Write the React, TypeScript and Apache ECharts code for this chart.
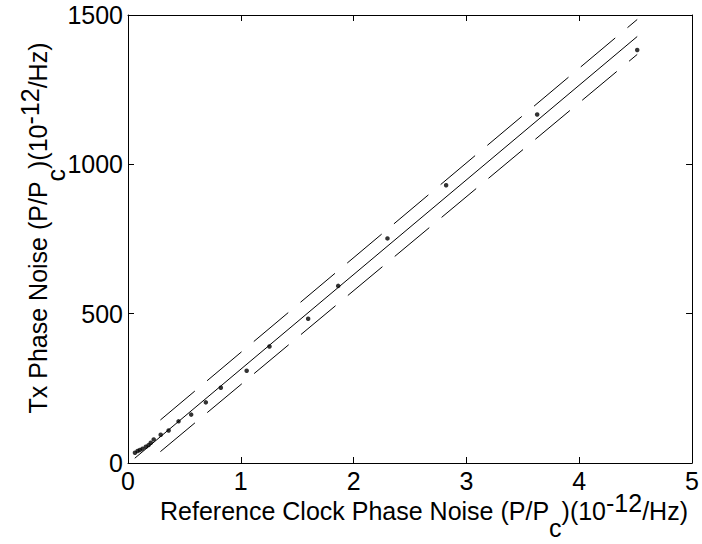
import React, { useEffect, useRef } from 'react';
import * as echarts from 'echarts';

// Measured data points (reference clock phase noise vs Tx phase noise)
const refNoise = [0.0615, 0.085, 0.105, 0.129, 0.158, 0.182, 0.202, 0.228, 0.29, 0.36, 0.448, 0.56, 0.69, 0.823, 1.052, 1.254, 1.597, 1.863, 2.3, 2.82, 3.627, 4.514];
const txNoise = [34.5, 40, 43.5, 48, 54.6, 60, 68, 79, 94.8, 109, 139.5, 162, 203, 252, 309, 390, 483, 593, 752, 930, 1167, 1383];

// Fitted line and bounds (end points)
const fitX = [0.06, 4.514];
const fitY = [16, 1428];
const boundX = [0.287, 4.514];
const upperY = [144, 1485];
const lowerY = [38, 1368];

const xMin = 0, xMax = 5, xStep = 1;
const yMin = 0, yMax = 1500, yStep = 500;

const FONT = "'Liberation Sans', Arial, Helvetica, sans-serif";
const FS = 25;

const makeRich = (subPad: number) => ({
  n: { fontSize: FS, fontFamily: FONT, fill: '#000', color: '#000', padding: [8, 0, 0, 0], verticalAlign: 'top' },
  p: { fontSize: FS, fontFamily: FONT, fill: '#000', color: '#000', padding: [0, 0, 0, 0], verticalAlign: 'top' },
  s: { fontSize: FS, fontFamily: FONT, fill: '#000', color: '#000', padding: [subPad, 0, 0, 0], verticalAlign: 'top' },
});

export default function App() {
  const ref = useRef<HTMLDivElement>(null);
  useEffect(() => {
    if (!ref.current) return;
    const chart = echarts.init(ref.current, undefined, { renderer: 'svg' });
    const pts = refNoise.map((x, i) => [x, txNoise[i]]);
    const fit = fitX.map((x, i) => [x, fitY[i]]);
    const up = boundX.map((x, i) => [x, upperY[i]]);
    const lo = boundX.map((x, i) => [x, lowerY[i]]);
    const axisCommon = {
      axisLine: { show: true, onZero: false, lineStyle: { color: '#000', width: 1 } },
      axisTick: { show: true, inside: true, length: 6, lineStyle: { color: '#000', width: 1 } },
      splitLine: { show: false },
    };
    chart.setOption({
      animation: false,
      backgroundColor: '#fff',
      grid: { left: 128, right: 5, top: 15, bottom: 81, containLabel: false },
      xAxis: [
        {
          type: 'value', min: xMin, max: xMax, interval: xStep, position: 'bottom',
          ...axisCommon,
          axisLabel: { show: true, margin: 5, fontSize: FS, fontFamily: FONT, color: '#000', formatter: (v: number) => String(v) },
        },
        {
          type: 'value', min: xMin, max: xMax, interval: xStep, position: 'top',
          ...axisCommon,
          axisLabel: { show: false },
        },
      ],
      yAxis: [
        {
          type: 'value', min: yMin, max: yMax, interval: yStep, position: 'left',
          ...axisCommon,
          axisLabel: { show: true, margin: 5, fontSize: FS, fontFamily: FONT, color: '#000', formatter: (v: number) => String(v) },
        },
        {
          type: 'value', min: yMin, max: yMax, interval: yStep, position: 'right',
          ...axisCommon,
          axisLabel: { show: false },
        },
      ],
      series: [
        {
          type: 'line', data: fit, showSymbol: false, symbol: 'none',
          lineStyle: { color: '#000', width: 1 }, z: 2,
        },
        {
          type: 'line', data: up, showSymbol: false, symbol: 'none',
          lineStyle: { color: '#000', width: 1, type: [45, 16] }, z: 2,
        },
        {
          type: 'line', data: lo, showSymbol: false, symbol: 'none',
          lineStyle: { color: '#000', width: 1, type: [45, 16] }, z: 2,
        },
        {
          type: 'scatter', data: pts, symbol: 'circle', symbolSize: 4.5,
          itemStyle: { color: '#000' }, z: 3,
        },
      ],
      graphic: [
        {
          type: 'text', x: 160, y: 490,
          style: {
            text: '{n|Reference Clock Phase Noise (P/P}{s|c}{n|)(10}{p|-12}{n|/Hz)}',
            rich: makeRich(25), align: 'left', verticalAlign: 'top', fill: '#000',
            fontSize: FS, fontFamily: FONT,
          },
        },
        {
          type: 'text', x: 17, y: 228, rotation: Math.PI / 2,
          style: {
            text: '{n|Tx Phase Noise (P/P}{s|c}{n|)(10}{p|-12}{n|/Hz)}',
            rich: makeRich(26), align: 'center', verticalAlign: 'top', fill: '#000',
            fontSize: FS, fontFamily: FONT,
          },
        },
      ],
    });
    return () => chart.dispose();
  }, []);
  return <div ref={ref} style={{ position: 'fixed', left: 0, top: 0, width: 702, height: 544 }} />;
}
